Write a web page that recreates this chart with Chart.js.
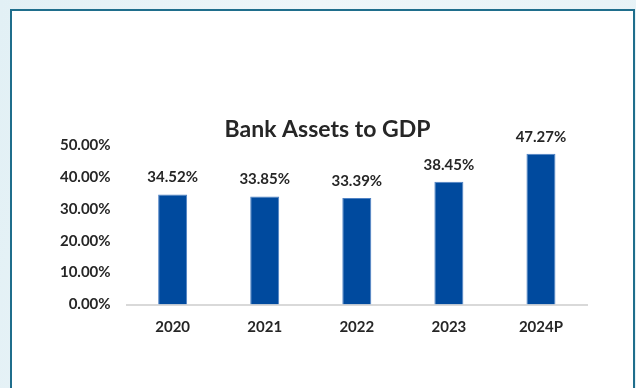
<!DOCTYPE html>
<html>
<head>
<meta charset="utf-8">
<script src="https://cdn.jsdelivr.net/npm/chart.js@4"></script>
<style>
  html, body { margin: 0; padding: 0; }
  body {
    width: 636px; height: 388px; overflow: hidden;
    background: linear-gradient(100deg, #e2f0f5 0%, #eef6f9 45%, #e6f2f6 100%);
    position: relative;
  }
  .panel {
    position: absolute; left: 10px; top: 9px; width: 621px; height: 400px;
    background: #fff; border: 2px solid #1f6e8c;
  }
  .wrap { position: absolute; left: 0; top: 0; width: 636px; height: 388px; }
</style>
</head>
<body>
<div class="panel"></div>
<div class="wrap"><canvas id="assetsChart"></canvas></div>
<script>
// ══ BANK ASSETS TO GDP ══════════════════════════════════════════
const years = ['2020', '2021', '2022', '2023', '2024P'];
const assetsToGdp = [34.52, 33.85, 33.39, 38.45, 47.27];
const yTicks = [0, 10, 20, 30, 40, 50];
const chartTitle = 'Bank Assets to GDP';

const fontFamily = 'Lato, "Open Sans", sans-serif';
const inkColor = '#262626';

// value labels above each bar, title centred on the panel
const barLabels = {
  id: 'barLabels',
  afterDatasetsDraw(chart) {
    const ctx = chart.ctx;
    const meta = chart.getDatasetMeta(0);
    ctx.save();
    ctx.fillStyle = inkColor;
    ctx.textAlign = 'center';
    ctx.textBaseline = 'middle';
    ctx.font = 'bold 15px ' + fontFamily;
    meta.data.forEach((bar, i) => {
      ctx.fillText(assetsToGdp[i].toFixed(2) + '%', bar.x, bar.y - 17);
    });
    ctx.font = 'bold 23px ' + fontFamily;
    ctx.fillText(chartTitle, 327.5, chart.chartArea.top - 15.5);
    ctx.restore();
  }
};

new Chart(document.getElementById('assetsChart'), {
  type: 'bar',
  data: {
    labels: years,
    datasets: [{
      label: chartTitle,
      data: assetsToGdp,
      backgroundColor: '#004a9e',
      borderColor: '#4f82c4',
      borderWidth: 1,
      categoryPercentage: 1,
      barPercentage: 0.315,
    }]
  },
  options: {
    responsive: true, maintainAspectRatio: false, animation: false,
    layout: { padding: { top: 145, left: 0, right: 49, bottom: 38.5 } },
    plugins: {
      legend: { display: false },
      tooltip: { enabled: false },
      title: { display: false },
    },
    scales: {
      x: {
        grid: { display: false, drawTicks: false },
        border: { display: true, color: '#d9d9d9', width: 2 },
        ticks: { color: inkColor, font: { size: 15, weight: 'bold', family: fontFamily }, padding: 13.5 },
      },
      y: {
        min: 0, max: 50,
        afterFit: s => { s.width = 126.6; },
        afterBuildTicks: s => { s.ticks = yTicks.map(v => ({ value: v })); },
        grid: { display: false, drawTicks: false },
        border: { display: false },
        ticks: {
          color: inkColor, padding: 16,
          font: { size: 15, weight: 'bold', family: fontFamily },
          callback: v => v.toFixed(2) + '%',
        },
      },
    },
  },
  plugins: [barLabels],
});
</script>
</body>
</html>
